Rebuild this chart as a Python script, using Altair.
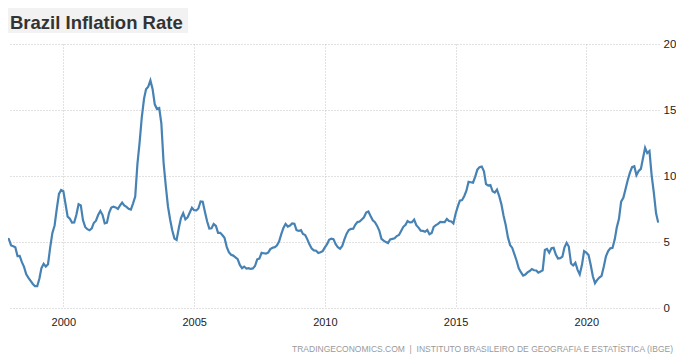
import altair as alt
import pandas as pd

# Brazil inflation rate (12-month, %), monthly from Nov 1997 to Oct 2022
v1997 = [5.26, 5.22]
v1998 = [4.74, 4.68, 4.60, 3.93, 3.95, 3.47, 3.12, 2.55, 2.28, 2.05, 1.82, 1.65]
v1999 = [1.65, 2.24, 3.02, 3.35, 3.14, 3.32, 4.57, 5.69, 6.25, 7.50, 8.64, 8.94]
v2000 = [8.85, 7.86, 6.92, 6.77, 6.47, 6.48, 7.06, 7.86, 7.77, 6.66, 6.14, 5.97]
v2001 = [5.89, 6.03, 6.44, 6.61, 7.04, 7.35, 7.06, 6.41, 6.46, 7.21, 7.61, 7.67]
v2002 = [7.62, 7.51, 7.75, 7.98, 7.77, 7.66, 7.51, 7.46, 7.93, 8.45, 10.93, 12.53]
v2003 = [14.47, 15.85, 16.57, 16.77, 17.24, 16.57, 15.43, 15.07, 15.14, 13.98, 11.02, 9.30]
v2004 = [7.71, 6.69, 5.89, 5.26, 5.15, 6.06, 6.81, 7.18, 6.71, 6.86, 7.24, 7.60]
v2005 = [7.41, 7.39, 7.54, 8.07, 8.05, 7.27, 6.57, 6.02, 6.04, 6.36, 6.22, 5.69]
v2006 = [5.70, 5.51, 5.32, 4.63, 4.23, 4.03, 3.97, 3.84, 3.70, 3.26, 3.02, 3.14]
v2007 = [2.99, 3.02, 2.96, 3.00, 3.18, 3.69, 3.74, 4.18, 4.15, 4.12, 4.19, 4.46]
v2008 = [4.56, 4.61, 4.73, 5.04, 5.58, 6.06, 6.37, 6.17, 6.25, 6.41, 6.39, 5.90]
v2009 = [5.84, 5.90, 5.61, 5.53, 5.20, 4.80, 4.50, 4.36, 4.34, 4.17, 4.22, 4.31]
v2010 = [4.59, 4.83, 5.17, 5.26, 5.22, 4.84, 4.60, 4.49, 4.70, 5.20, 5.63, 5.91]
v2011 = [5.99, 6.01, 6.30, 6.51, 6.55, 6.71, 6.87, 7.23, 7.31, 6.97, 6.64, 6.50]
v2012 = [6.22, 5.85, 5.24, 5.10, 4.99, 4.92, 5.20, 5.24, 5.28, 5.45, 5.53, 5.84]
v2013 = [6.15, 6.31, 6.59, 6.49, 6.50, 6.70, 6.27, 6.09, 5.86, 5.84, 5.77, 5.91]
v2014 = [5.59, 5.68, 6.15, 6.28, 6.37, 6.52, 6.50, 6.51, 6.75, 6.59, 6.56, 6.41]
v2015 = [7.14, 7.70, 8.13, 8.17, 8.47, 8.89, 9.56, 9.53, 9.49, 9.93, 10.48, 10.67]
v2016 = [10.71, 10.36, 9.39, 9.28, 9.32, 8.84, 8.74, 8.97, 8.48, 7.87, 6.99, 6.29]
v2017 = [5.35, 4.76, 4.57, 4.08, 3.60, 3.00, 2.71, 2.46, 2.54, 2.70, 2.80, 2.95]
v2018 = [2.86, 2.84, 2.68, 2.76, 2.86, 4.39, 4.48, 4.19, 4.53, 4.56, 4.05, 3.75]
v2019 = [3.78, 3.89, 4.58, 4.94, 4.66, 3.37, 3.22, 3.43, 2.89, 2.54, 3.27, 4.31]
v2020 = [4.19, 4.01, 3.30, 2.40, 1.88, 2.13, 2.31, 2.44, 3.14, 3.92, 4.31, 4.52]
v2021 = [4.56, 5.20, 6.10, 6.76, 8.06, 8.35, 8.99, 9.68, 10.25, 10.67, 10.74, 10.06]
v2022 = [10.38, 10.54, 11.30, 12.13, 11.73, 11.89, 10.07, 8.73, 7.17, 6.47]

x_tick_years = [2000, 2005, 2010, 2015, 2020]
y_ticks = [0, 5, 10, 15, 20]

title_text = "Brazil Inflation Rate"
source_text = ("TRADINGECONOMICS.COM\u00a0\u00a0|\u00a0\u00a0INSTITUTO BRASILEIRO DE "
               "GEOGRAFIA E ESTATÍSTICA (IBGE)")

values = (v1997 + v1998 + v1999 + v2000 + v2001 + v2002 + v2003 + v2004 + v2005
          + v2006 + v2007 + v2008 + v2009 + v2010 + v2011 + v2012 + v2013 + v2014
          + v2015 + v2016 + v2017 + v2018 + v2019 + v2020 + v2021 + v2022)
dates = pd.date_range("1997-11-01", periods=len(values), freq="MS")
df = pd.DataFrame({"date": dates.strftime("%Y-%m-%dT00:00:00"), "value": values})

W, H = 651, 264
FONT = "Liberation Sans"
grid_color = "#c4c4c4"

line = alt.Chart(df).mark_line(color="#4682b4", strokeWidth=2.2, clip=True).encode(
    x=alt.X(
        "date:T",
        scale=alt.Scale(domain=[alt.DateTime(year=1997, month=11, date=19),
                                alt.DateTime(year=2022, month=10, date=12)]),
        axis=alt.Axis(
            values=[alt.DateTime(year=y, month=1, date=1) for y in x_tick_years],
            format="%Y", title=None, grid=True, gridColor=grid_color, gridDash=[1, 2],
            ticks=False, domain=False, labelPadding=8, labelFontSize=11,
            labelFont=FONT, labelColor="#222",
        ),
    ),
    y=alt.Y(
        "value:Q",
        scale=alt.Scale(domain=[0, 20], nice=False, zero=True),
        axis=alt.Axis(
            orient="right", values=y_ticks, title=None, grid=True, gridColor=grid_color,
            gridDash=[1, 2], ticks=False, domain=False, labelPadding=4,
            labelFontSize=11.5, labelFont=FONT, labelColor="#222",
        ),
    ),
)

title_bg = alt.Chart(alt.Data(values=[{}])).mark_rect(color="#f2f2f2").encode(
    x=alt.value(0), x2=alt.value(180), y=alt.value(-36), y2=alt.value(-11)
)
title = alt.Chart(alt.Data(values=[{}])).mark_text(
    text=title_text, align="left", baseline="alphabetic", fontSize=18.5,
    fontWeight="bold", font=FONT, color="#333333"
).encode(x=alt.value(2), y=alt.value(-15.5))

source = alt.Chart(alt.Data(values=[{}])).mark_text(
    text=source_text, align="right", baseline="middle", fontSize=8.5,
    font=FONT, color="#9a9a9a"
).encode(x=alt.value(665), y=alt.value(305))

chart = alt.layer(title_bg, title, line, source).properties(
    width=W, height=H, padding={"left": 0, "top": 0, "right": 0, "bottom": 0}
).configure_view(stroke=None)

chart.save("out.html", embed_options={"renderer": "svg", "actions": False})
